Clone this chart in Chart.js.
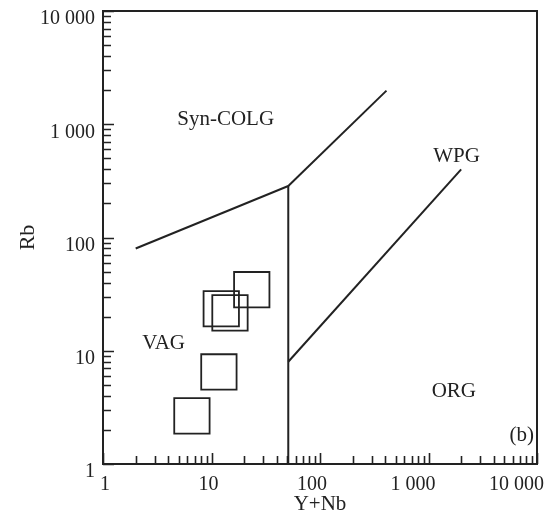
<!DOCTYPE html>
<html>
<head>
<meta charset="utf-8">
<script src="https://cdn.jsdelivr.net/npm/chart.js@4"></script>
<style>
html,body{margin:0;padding:0;background:#fff;}
#wrap{width:552px;height:512px;}
</style>
</head>
<body>
<div id="wrap"><canvas id="c" width="552" height="512"></canvas></div>
<script>
// ---- data ----
const sampleYNb = [23.5, 12.3, 14.8, 11.7, 6.6];
const sampleRb  = [34.6, 23.5, 21.6, 6.5, 2.66];

const colgVagX = [2, 51];
const colgVagY = [80, 285];
const colgWpgX = [51, 410];
const colgWpgY = [285, 1980];
const vagOrgX  = [51, 51];
const vagOrgY  = [285, 1];
const wpgOrgX  = [51, 2000];
const wpgOrgY  = [8, 400];

const regionNames = ['Syn-COLG', 'VAG', 'WPG', 'ORG', '(b)'];
const regionX = [13.5, 3.62, 1815, 1711, 7245];
const regionY = [1097, 11.6, 517, 4.35, 1.77];

const decades = [1, 10, 100, 1000];
const axisMax = 10000;

function pts(xs, ys){ return xs.map((x,i)=>({x:x, y:ys[i]})); }
function logTicks(){
  const t = [];
  decades.forEach(d => { for (let k=1;k<=9;k++) t.push({value:d*k}); });
  t.push({value:axisMax});
  return t;
}
function fmt(v){
  const l = Math.log10(v);
  if (Math.abs(l - Math.round(l)) > 1e-9) return '';
  return String(Math.round(v)).replace(/\B(?=(\d{3})+(?!\d))/g, ' ');
}
function noPad(s){ s.paddingLeft = 0; s.paddingRight = 0; s.paddingTop = 0; s.paddingBottom = 0; }
const INK = '#222';

const framePlugin = {
  id:'frame',
  afterDraw(chart){
    const ctx = chart.ctx, a = chart.chartArea;
    const xs = chart.scales.x, ys = chart.scales.y;
    ctx.save();
    ctx.strokeStyle = INK;
    ctx.lineWidth = 2;
    ctx.strokeRect(a.left, a.top, a.right - a.left, a.bottom - a.top);
    ctx.lineWidth = 1.6;
    ctx.beginPath();
    ys.ticks.forEach(t => {
      const l = Math.log10(t.value);
      const major = Math.abs(l - Math.round(l)) < 1e-9;
      const p = Math.round(ys.getPixelForValue(t.value)) + 0.5;
      const len = major ? 11 : 8;
      ctx.moveTo(a.left, p); ctx.lineTo(a.left + len, p);
    });
    xs.ticks.forEach(t => {
      const l = Math.log10(t.value);
      const major = Math.abs(l - Math.round(l)) < 1e-9;
      const p = Math.round(xs.getPixelForValue(t.value)) + 0.5;
      const len = major ? 11 : 8;
      ctx.moveTo(p, a.bottom); ctx.lineTo(p, a.bottom - len);
    });
    ctx.stroke();
    // region labels
    ctx.fillStyle = INK;
    ctx.font = '21px "Liberation Serif", "DejaVu Serif", serif';
    ctx.textAlign = 'center';
    ctx.textBaseline = 'middle';
    regionNames.forEach((n,i) => {
      ctx.fillText(n, xs.getPixelForValue(regionX[i]), ys.getPixelForValue(regionY[i]));
    });
    ctx.restore();
  }
};

const lineDs = (data) => ({
  type:'line', data:data, showLine:true, borderColor:INK, borderWidth:2,
  pointRadius:0, fill:false, tension:0
});

const serif = {family:'"Liberation Serif", "DejaVu Serif", serif', size:20};

new Chart(document.getElementById('c'), {
  type:'scatter',
  data:{
    datasets:[
      lineDs(pts(colgVagX, colgVagY)),
      lineDs(pts(colgWpgX, colgWpgY)),
      lineDs(pts(vagOrgX, vagOrgY)),
      lineDs(pts(wpgOrgX, wpgOrgY)),
      {
        data: pts(sampleYNb, sampleRb),
        pointStyle:'rect', pointRadius:25, pointBorderWidth:1.8,
        borderColor:INK, backgroundColor:'rgba(0,0,0,0)', pointBackgroundColor:'rgba(0,0,0,0)'
      }
    ]
  },
  options:{
    responsive:false, animation:false,
    layout:{autoPadding:false, padding:{top:11, right:15, left:0, bottom:0}},
    plugins:{legend:{display:false}, tooltip:{enabled:false}},
    scales:{
      x:{
        type:'logarithmic', min:1, max:axisMax,
        afterBuildTicks: s => { s.ticks = logTicks(); },
        afterFit: s => { s.height = 48; noPad(s); },
        grid:{display:false, drawTicks:false},
        border:{display:false},
        ticks:{callback:v => fmt(v), autoSkip:false, maxRotation:0, align:'end', padding:9, labelOffset:7, color:INK, font:serif},
        title:{display:true, text:'Y+Nb', color:INK, font:{...serif, size:21, lineHeight:1}, padding:{top:0,bottom:-3}}
      },
      y:{
        type:'logarithmic', min:1, max:axisMax,
        afterBuildTicks: s => { s.ticks = logTicks(); },
        afterFit: s => { s.width = 103; noPad(s); },
        grid:{display:false, drawTicks:false},
        border:{display:false},
        ticks:{callback:v => fmt(v), autoSkip:false, padding:8, labelOffset:8, color:INK, font:serif},
        title:{display:true, text:'Rb', color:INK, font:{...serif, size:22, lineHeight:1}, padding:{top:17,bottom:0}}
      }
    }
  },
  plugins:[framePlugin]
});
</script>
</body>
</html>
